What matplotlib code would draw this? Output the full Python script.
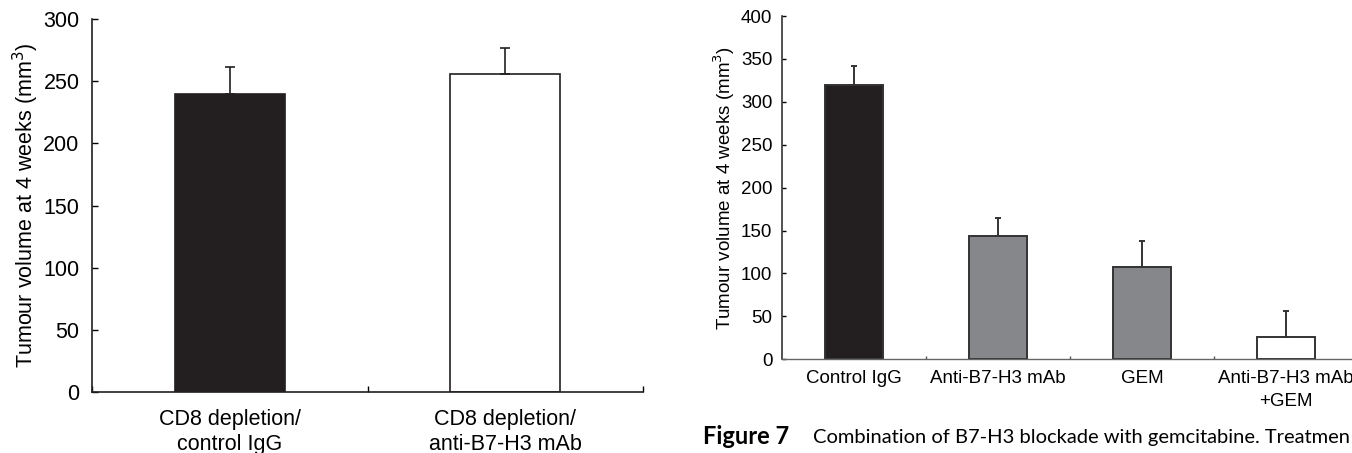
import matplotlib
matplotlib.use("Agg")
import matplotlib.pyplot as plt
import numpy as np

plt.rcParams['font.family'] = ['Liberation Sans', 'DejaVu Sans']

# Left panel data
left_labels = ["CD8 depletion/\ncontrol IgG", "CD8 depletion/\nanti-B7-H3 mAb"]
left_values = [240, 256]
left_errors = [21, 21]
left_colors = ["#231f20", "#ffffff"]
left_yticks = [0, 50, 100, 150, 200, 250, 300]

# Right panel data
right_labels = ["Control IgG", "Anti-B7-H3 mAb", "GEM", "Anti-B7-H3 mAb\n+GEM"]
right_values = [320, 144, 107, 26]
right_errors = [22, 21, 31, 30]
right_colors = ["#231f20", "#86878b", "#86878b", "#ffffff"]
right_yticks = [0, 50, 100, 150, 200, 250, 300, 350, 400]

caption_bold = "Figure 7"
caption_text = "Combination of B7-H3 blockade with gemcitabine. Treatmen"

W, H = 1352, 453
fig = plt.figure(figsize=(W / 100, H / 100), dpi=100)

# ---------- Left panel ----------
axL = fig.add_axes([92 / W, 1 - 392 / H, (643 - 92) / W, (392 - 19) / H])
xl = np.arange(len(left_values)) + 0.5
axL.bar(xl, left_values, width=0.4, color=left_colors, edgecolor="#231f20", linewidth=1.2, zorder=2)
axL.errorbar(xl, left_values, yerr=[np.zeros(len(left_errors)), left_errors], fmt="none",
             ecolor="#231f20", elinewidth=1.2, capsize=3.5, capthick=1.2, zorder=3)
axL.set_xlim(0, len(left_values))
axL.set_ylim(0, 300)
axL.set_yticks(left_yticks)
axL.set_xticks(np.arange(len(left_values) + 1))
axL.set_xticklabels([])
axL.set_xticks(xl, minor=True)
axL.set_xticklabels(left_labels, minor=True, fontsize=15.5, linespacing=1.3)
axL.tick_params(axis="x", which="major", direction="in", length=4, width=1)
axL.tick_params(axis="x", which="minor", length=0, pad=12)
axL.tick_params(axis="y", direction="in", length=4, width=1, labelsize=15.5, pad=9)
for s in ["top", "right"]:
    axL.spines[s].set_visible(False)
for s in ["left", "bottom"]:
    axL.spines[s].set_linewidth(1.2)
    axL.spines[s].set_color("#231f20")
axL.set_ylabel("Tumour volume at 4 weeks (mm$^3$)", fontsize=15.5, labelpad=1.5)

# ---------- Right panel ----------
axR = fig.add_axes([782 / W, 1 - 359.3 / H, (1358 - 782) / W, (359.3 - 16) / H])
xr = np.arange(len(right_values)) + 0.5
axR.bar(xr, right_values, width=0.4, color=right_colors, edgecolor="#333333", linewidth=1.4, zorder=2)
axR.errorbar(xr, right_values, yerr=[np.zeros(len(right_errors)), right_errors], fmt="none",
             ecolor="#333333", elinewidth=1.4, capsize=2.5, capthick=1.4, zorder=3)
axR.set_xlim(0, len(right_values))
axR.set_ylim(0, 400)
axR.set_yticks(right_yticks)
axR.set_xticks(np.arange(1, len(right_values)))
axR.set_xticklabels([])
axR.set_xticks(xr, minor=True)
axR.set_xticklabels(right_labels, minor=True, fontsize=13.5, linespacing=1.4)
axR.tick_params(axis="x", which="major", direction="in", length=2, width=1, color="#555555")
axR.tick_params(axis="x", which="minor", length=0, pad=8)
axR.tick_params(axis="y", direction="in", length=3, width=1, labelsize=13.5, pad=7)
for s in ["top", "right"]:
    axR.spines[s].set_visible(False)
axR.spines["left"].set_linewidth(1.2)
axR.spines["left"].set_color("#333333")
axR.spines["bottom"].set_linewidth(1.0)
axR.spines["bottom"].set_color("#666666")
axR.set_ylabel("Tumour volume at 4 weeks (mm$^3$)", fontsize=13.5, labelpad=2.5)

# Caption
fig.text(703 / W, 1 - 437 / H, caption_bold, fontsize=17, fontweight="bold",
         family=["Lato", "DejaVu Sans"], va="center", ha="left")
cap = fig.text(813 / W, 1 - 437 / H, caption_text,
               fontsize=17, family=["Lato", "DejaVu Sans"], va="center", ha="left")
renderer = fig.canvas.get_renderer()
width_px = cap.get_window_extent(renderer).width
target = 1350 - 813
cap.set_fontsize(17 * target / width_px)

fig.savefig("out.png", dpi=100)
